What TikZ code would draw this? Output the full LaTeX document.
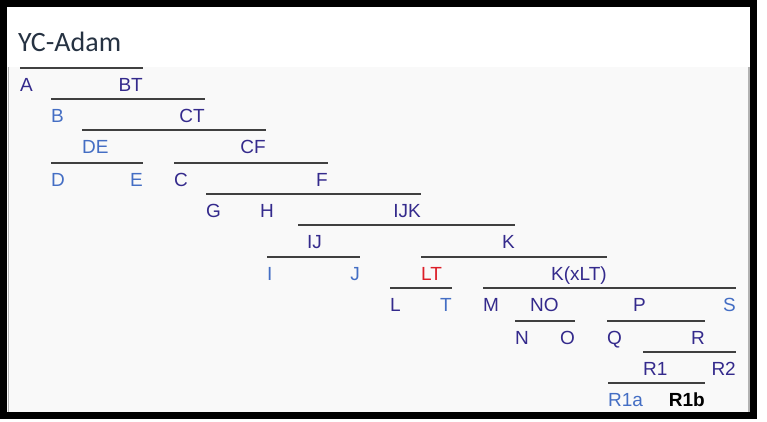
\documentclass[tikz,border=0pt]{standalone}
\usepackage{fontspec}
\setmainfont{Liberation Sans}
\newfontfamily\titlefont{Carlito}
\usepackage{tikz}

\definecolor{treeindigo}{RGB}{52,42,140}
\definecolor{treeblue}{RGB}{68,110,196}
\definecolor{treered}{RGB}{220,30,40}
\definecolor{bargray}{RGB}{64,64,64}
\definecolor{titlegray}{RGB}{38,50,66}
\definecolor{panelgray}{RGB}{249,249,249}

\begin{document}
\begin{tikzpicture}[x=1pt,y=-1pt,
    lbl/.style={font=\fontsize{19}{20}\selectfont, text=treeindigo, inner xsep=0pt, inner ysep=9.5pt, text height=13.5pt, text depth=0pt, anchor=base west},
    rlbl/.style={lbl, anchor=base east},
    leaf/.style={text=treeblue},
    bar/.style={draw=bargray, line width=2.2pt}]
        \useasboundingbox (0,0) rectangle (767,421);

        % Draw the panel and the frame
        \fill[panelgray] (7,67) rectangle (750,412);
        \draw[gray!60, line width=1.5pt] (8.5,67) -- (8.5,412);
        \draw[gray!60, line width=1.5pt] (749,67) -- (749,412);
        \draw[line width=7pt] (3.5,3.5) rectangle (753.5,415.5);

        % title
        \node[font=\titlefont\fontsize{28}{30}\selectfont, text=titlegray, anchor=base west, inner sep=0pt] (title) at (18,51) {YC-Adam};

        % put the labels where they belong
        \node[lbl] (A) at (20,91.5) {A};
        \node[rlbl] (BT) at (143,91.5) {BT};
        \node[lbl,leaf] (B) at (51,122.5) {B};
        \node[rlbl] (CT) at (205,122.5) {CT};
        \node[lbl,leaf] (DE) at (82,153.5) {DE};
        \node[rlbl] (CF) at (266,153.5) {CF};
        \node[lbl,leaf] (D) at (51,186.5) {D};
        \node[rlbl,leaf] (E) at (143,186.5) {E};
        \node[lbl] (C) at (174,186.5) {C};
        \node[rlbl] (F) at (328,186.5) {F};
        \node[lbl] (G) at (206,217.5) {G};
        \node[lbl] (H) at (260,217.5) {H};
        \node[rlbl] (IJK) at (421,217.5) {IJK};
        \node[lbl] (IJ) at (307,248.5) {IJ};
        \node[rlbl] (K) at (515,248.5) {K};
        \node[lbl,leaf] (I) at (267,280) {I};
        \node[rlbl,leaf] (J) at (360,280) {J};
        \node[lbl,text=treered] (LT) at (421,280) {LT};
        \node[rlbl] (KxLT) at (607,280) {K(xLT)};
        \node[lbl] (L) at (390,311.5) {L};
        \node[rlbl,leaf] (T) at (452,311.5) {T};
        \node[lbl] (M) at (483,311.5) {M};
        \node[lbl] (NO) at (530,311.5) {NO};
        \node[lbl] (P) at (633,311.5) {P};
        \node[rlbl,leaf] (S) at (736,311.5) {S};
        \node[lbl] (N) at (515,344.5) {N};
        \node[rlbl] (O) at (575,344.5) {O};
        \node[lbl] (Q) at (607,344.5) {Q};
        \node[rlbl] (R) at (705,344.5) {R};
        \node[lbl] (R1) at (643,375.5) {R1};
        \node[rlbl] (R2) at (736,375.5) {R2};
        \node[lbl,leaf] (R1a) at (608,406.5) {R1a};
        \node[rlbl,text=black,font=\fontsize{19}{20}\selectfont\bfseries] (R1b) at (705,406.5) {R1b};

        % Draw the bars
        \draw[bar] (A.north west) -- (BT.north east);
        \draw[bar] (B.north west) -- (CT.north east);
        \draw[bar] (DE.north west) -- (CF.north east);
        \draw[bar] (D.north west) -- (E.north east);
        \draw[bar] (C.north west) -- (F.north east);
        \draw[bar] (G.north west) -- (IJK.north east);
        \draw[bar] ([xshift=-9pt]IJ.north west) -- (K.north east);
        \draw[bar] (I.north west) -- (J.north east);
        \draw[bar] (LT.north west) -- (KxLT.north east);
        \draw[bar] (L.north west) -- (T.north east);
        \draw[bar] (M.north west) -- (S.north east);
        \draw[bar] (N.north west) -- (O.north east);
        \draw[bar] (Q.north west) -- (R.north east);
        \draw[bar] (R1.north west) -- (R2.north east);
        \draw[bar] (R1a.north west) -- (R1b.north east);

    \end{tikzpicture}
\end{document}
